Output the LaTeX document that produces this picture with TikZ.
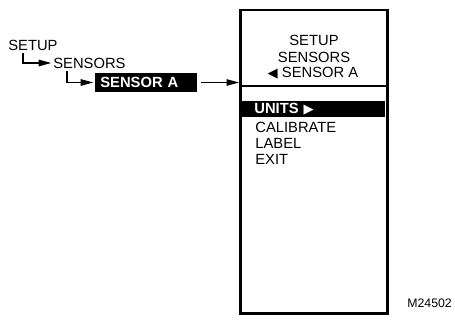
\documentclass[tikz,border=0pt]{standalone}
\usepackage{fontspec}
\setmainfont{Liberation Sans}
\newfontfamily\symfont{DejaVu Sans}
\usetikzlibrary{arrows.meta, positioning, calc}

\begin{document}
\begin{tikzpicture}[
  txt/.style={inner sep=0pt, anchor=west, font=\fontsize{8.4}{10}\selectfont},
  hdr/.style={inner sep=0pt, font=\fontsize{8.4}{10}\selectfont},
  hilite/.style={fill=black, text=white, anchor=west, inner ysep=0pt,
                 font=\fontsize{8.4}{10}\selectfont\bfseries, align=left},
  arr/.style={-{Triangle[length=0.25cm, width=0.13cm]}, line width=0.6pt},
  screen/.style={draw, line width=1.7pt, minimum width=2.94cm,
                 minimum height=6.07cm, inner sep=0pt}
]
\useasboundingbox (0,0) rectangle (9.1,6.44);

\node[txt] (setup) at (0.16,5.54) {SETUP};
\node[txt] (sensors) at (1.06,5.18) {SENSORS};
\node[hilite, inner xsep=0.1cm, text width=1.84cm, minimum height=0.38cm]
  (sensora) at (1.90,4.79) {SENSOR A};

\draw[arr] ($(setup.south west)+(0.3,-0.04)$) |- ([xshift=-1pt]sensors.west);
\draw[arr] ($(sensors.south west)+(0.28,-0.04)$) |- ([xshift=-1pt]sensora.west);

\node[screen] (screen) at (6.28,3.205) {};
\draw[arr] ([xshift=0.06cm]sensora.east) -- (sensora.east -| screen.west);

\node[hdr] (h1) at (6.28,5.64) {SETUP};
\node[hdr] (h2) at (6.28,5.30) {SENSORS};
\node[hdr] (h3) at (6.26,4.98) {{\symfont\fontsize{7.5}{7.5}\selectfont ◀} SENSOR A};

\coordinate (div) at (6.28,4.72);
\draw[line width=0.6pt] (div -| screen.west) -- (div -| screen.east);

\node[hilite, inner xsep=0.24cm, text width=2.38cm, minimum height=0.32cm]
  (units) at (4.84,4.26) {UNITS {\symfont\fontsize{7.5}{7.5}\selectfont ▶}};
\node[txt] (calib) at (5.10,3.90) {CALIBRATE};
\node[txt] (label) at (5.10,3.58) {LABEL};
\node[txt] (exit) at (5.10,3.26) {EXIT};

\node[txt, font=\fontsize{7}{8}\selectfont] (code) at (8.14,0.38) {M24502};
\end{tikzpicture}
\end{document}
